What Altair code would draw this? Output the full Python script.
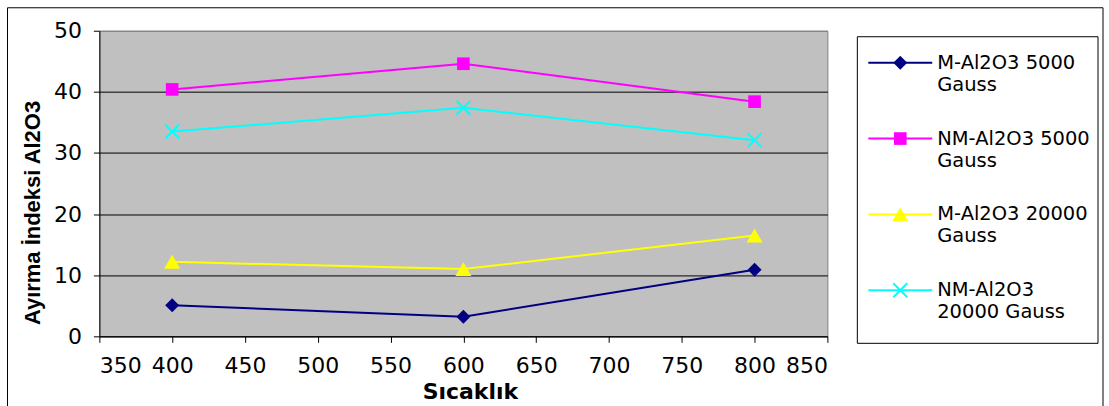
import altair as alt
import pandas as pd

# ---- data ----
temps = [400, 600, 800]
series = ["M-Al2O3 5000 Gauss", "NM-Al2O3 5000 Gauss",
          "M-Al2O3 20000 Gauss", "NM-Al2O3 20000 Gauss"]
m_5000 = [5.1, 3.2, 10.9]
nm_5000 = [40.4, 44.6, 38.4]
m_20000 = [12.2, 11.0, 16.5]
nm_20000 = [33.5, 37.4, 32.1]
legend_line1 = ["M-Al2O3 5000", "NM-Al2O3 5000", "M-Al2O3 20000", "NM-Al2O3"]
legend_line2 = ["Gauss", "Gauss", "Gauss", "20000 Gauss"]
x_ticks = [350, 400, 450, 500, 550, 600, 650, 700, 750, 800, 850]
y_ticks = [0, 10, 20, 30, 40, 50]

# ---- styles ----
colors = ["#000080", "#FF00FF", "#FFFF00", "#00FFFF"]
marker_shapes = ["diamond", "square", "triangle-up", "M-1,-1L1,1M-1,1L1,-1"]
marker_sizes = [196, 160, 256, 196]
marker_filled = [True, True, True, False]

df = pd.DataFrame({
    "sicaklik": temps * 4,
    "value": m_5000 + nm_5000 + m_20000 + nm_20000,
    "series": [s for s in series for _ in temps],
})
leg_df = pd.DataFrame({"series": series, "line1": legend_line1, "line2": legend_line2})

color_scale = alt.Scale(domain=series, range=colors)

x_enc = alt.X(
    "sicaklik:Q",
    scale=alt.Scale(domain=[350, 850], nice=False, zero=False),
    axis=alt.Axis(
        values=x_ticks, grid=False, title="Sıcaklık",
        labelFont="DejaVu Sans", labelFontSize=22, labelColor="black",
        labelBaseline="alphabetic", labelPadding=30, labelOverlap=False,
        tickSize=6, tickColor="black", domainColor="black",
        titleFont="DejaVu Sans", titleFontWeight="bold", titleFontSize=22,
        titleColor="black", titleX=371, titleY=62, titleBaseline="alphabetic",
        titleAlign="center",
    ),
)
y_enc = alt.Y(
    "value:Q",
    scale=alt.Scale(domain=[0, 50], nice=False),
    axis=alt.Axis(
        values=y_ticks, grid=True,
        gridColor={"condition": {"test": "datum.value === 50", "value": "#808080"}, "value": "black"},
        gridWidth=1, title="Ayırma İndeksi Al2O3",
        labelFont="DejaVu Sans", labelFontSize=22, labelColor="black", labelPadding=12,
        tickSize=6, tickColor="black", domainColor="black",
        titleFont="Liberation Sans", titleFontWeight="bold", titleFontSize=22,
        titleColor="black", titleAngle=270, titleX=-60, titleY=182,
        titleAlign="center", titleBaseline="alphabetic",
    ),
)

outer = alt.Chart(alt.Data(values=[{}])).mark_rect(
    fillOpacity=0, stroke="black", strokeWidth=1
).encode(x=alt.value(-92), x2=alt.value(1005), y=alt.value(-23), y2=alt.value(390))

lines = alt.Chart(df).mark_line(strokeWidth=2).encode(
    x=x_enc, y=y_enc, color=alt.Color("series:N", scale=color_scale, legend=None)
)

plot_layers = [outer, lines]
for i, s in enumerate(series):
    kw = dict(shape=marker_shapes[i], size=marker_sizes[i], filled=marker_filled[i],
              opacity=1, color=colors[i])
    if not marker_filled[i]:
        kw["strokeWidth"] = 2
    plot_layers.append(
        alt.Chart(df).transform_filter(alt.datum.series == s).mark_point(**kw).encode(x=x_enc, y=y_enc)
    )

plot = alt.layer(*plot_layers).properties(
    width=729, height=306,
    view=alt.ViewBackground(fill="#C0C0C0", stroke="#808080", strokeWidth=1),
)

# ---- legend panel ----
leg_y = alt.Y("series:N", scale=alt.Scale(type="point", domain=series, padding=0.56, align=0.376), axis=None)

box = alt.Chart(alt.Data(values=[{}])).mark_rect(
    fill="white", stroke="black", strokeWidth=1
).encode(x=alt.value(0), x2=alt.value(241), y=alt.value(6), y2=alt.value(313))

rules = alt.Chart(leg_df).mark_rule(strokeWidth=2).encode(
    x=alt.value(11), x2=alt.value(75), y=leg_y,
    color=alt.Color("series:N", scale=color_scale, legend=None),
)
leg_layers = [box, rules]
for i, s in enumerate(series):
    kw = dict(shape=marker_shapes[i], size=marker_sizes[i], filled=marker_filled[i],
              opacity=1, color=colors[i])
    if not marker_filled[i]:
        kw["strokeWidth"] = 2
    leg_layers.append(
        alt.Chart(leg_df).transform_filter(alt.datum.series == s).mark_point(**kw).encode(
            x=alt.value(43), y=leg_y)
    )
text1 = alt.Chart(leg_df).mark_text(
    align="left", baseline="middle", font="DejaVu Sans", fontSize=19.5, color="black"
).encode(x=alt.value(80), y=leg_y, text="line1:N")
text2 = alt.Chart(leg_df).mark_text(
    align="left", baseline="middle", font="DejaVu Sans", fontSize=19.5, color="black", dy=22
).encode(x=alt.value(80), y=leg_y, text="line2:N")
leg_layers += [text1, text2]

legend = alt.layer(*leg_layers).properties(
    width=241, height=313,
    view=alt.ViewBackground(stroke="transparent"),
)

chart = alt.hconcat(plot, legend, spacing=30, bounds="flush").properties(
    padding={"left": 6.5, "top": 6.5, "right": 5, "bottom": 0},
    background="white",
)

chart.save("out.html", embed_options={"renderer": "svg", "actions": False})
